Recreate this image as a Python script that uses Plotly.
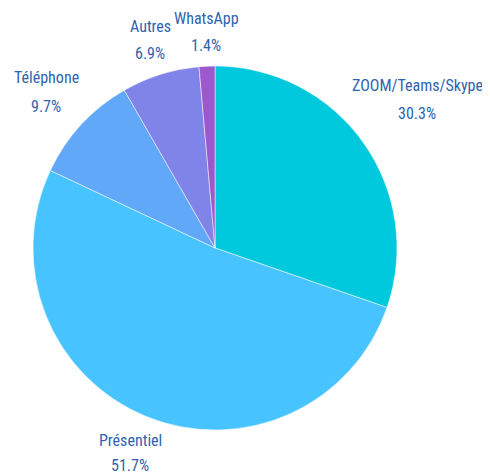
import plotly.graph_objects as go

labels = ["ZOOM/Teams/Skype", "Présentiel", "Téléphone", "Autres", "WhatsApp"]
values = [30.3, 51.7, 9.7, 6.9, 1.4]
colors = ["#00C9DD", "#47C4FF", "#62A8F8", "#8083E7", "#9C58CC"]

# label anchor positions in page pixels: (x centre, y of name line, y of value line)
label_pos = [(417, 85, 113), (130, 440, 465), (46, 77, 106), (150, 27, 54), (206, 19, 46)]

OFF = 8  # default body margin of the page
W, H = 490 - OFF, 475 - OFF
text_color = "#2D64AF"
font = dict(family="Roboto, sans-serif", size=16, color=text_color, weight=400)

fig = go.Figure(go.Pie(
    labels=labels,
    values=values,
    marker=dict(colors=colors, line=dict(color="white", width=0.5)),
    sort=False,
    direction="clockwise",
    rotation=0,
    textinfo="none",
    hoverinfo="label+percent",
    domain=dict(x=[(33 - OFF) / W, (397 - OFF) / W],
                y=[(H - (430 - OFF)) / H, (H - (66 - OFF)) / H]),
    showlegend=False,
))

for lab, v, (px, py1, py2) in zip(labels, values, label_pos):
    for txt, py in ((lab, py1), (f"{v}%", py2)):
        fig.add_annotation(
            x=(px - OFF) / W, y=1 - (py - OFF) / H, xref="paper", yref="paper",
            text=f'<span style="font-stretch:condensed">{txt}</span>', showarrow=False,
            font=font, align="center", xanchor="center", yanchor="middle",
        )

fig.update_layout(
    width=W, height=H,
    margin=dict(l=0, r=0, t=0, b=0),
    paper_bgcolor="white", plot_bgcolor="white",
)

fig.write_html("out.html")
